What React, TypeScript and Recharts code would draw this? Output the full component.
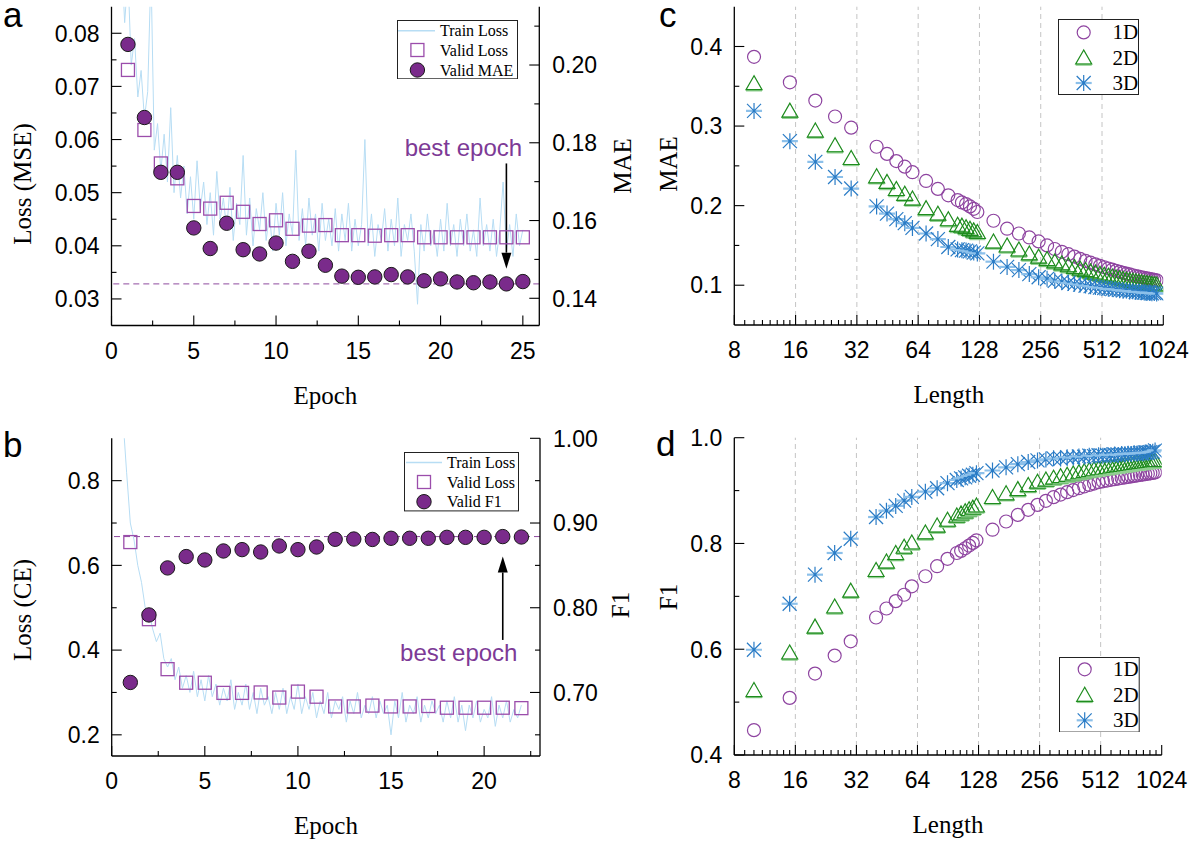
import React from 'react';
import { ComposedChart, Line, Scatter, XAxis, YAxis, ReferenceLine, Legend } from 'recharts';

const SANS = 'Arial, "Liberation Sans", Helvetica, sans-serif';
const SERIF = '"Times New Roman", "Liberation Serif", Times, serif';

const TRAIN = '#b7ddf4';
const SQUARE = '#9b4dab';
const DOT_FILL = '#7a2b8b';
const DASH = '#8e4a9e';
const BEST_TXT = '#7d3a96';
const C1D = '#8e44a0';
const C2D = '#1e8c1e';
const C2D_LIGHT = '#92d092';
const C3D = '#2a7cc6';
const C3D_LIGHT = '#8cc0ea';
const GRID = '#c4c4c4';

// ---------- panel a: regression run ----------
const epochsA = [1, 2, 3, 4, 5, 6, 7, 8, 9, 10, 11, 12, 13, 14, 15, 16, 17, 18, 19, 20, 21, 22, 23, 24, 25];
const validLossA = [0.0731, 0.0618, 0.0555, 0.0527, 0.0475, 0.047, 0.0481, 0.0464, 0.0441, 0.0448, 0.0432, 0.0438, 0.0439,
  0.042, 0.042, 0.0419, 0.042, 0.042, 0.0416, 0.0416, 0.0416, 0.0416, 0.0416, 0.0416, 0.0416];
const validMaeA = [0.2053, 0.1865, 0.1724, 0.1724, 0.1581, 0.1528, 0.1593, 0.1525, 0.1514, 0.1542, 0.1495, 0.1521, 0.1485,
  0.1457, 0.1454, 0.1455, 0.1461, 0.1455, 0.1445, 0.145, 0.1442, 0.144, 0.1442, 0.1437, 0.1443];
// logged every 0.2 epoch, first value at epoch 0.6
const trainLossA = [
  0.095, 0.082, 0.091, 0.074, 0.079, 0.068, 0.073, 0.064, 0.069, 0.092,
  0.058, 0.063, 0.054, 0.061, 0.052, 0.066, 0.05, 0.057, 0.049, 0.055,
  0.046, 0.053, 0.045, 0.056, 0.047, 0.052, 0.044, 0.05, 0.042, 0.054,
  0.045, 0.049, 0.043, 0.051, 0.041, 0.048, 0.044, 0.057, 0.042, 0.049,
  0.04, 0.047, 0.043, 0.05, 0.041, 0.046, 0.039, 0.048, 0.042, 0.05,
  0.04, 0.046, 0.042, 0.058, 0.041, 0.047, 0.04, 0.049, 0.042, 0.046,
  0.039, 0.048, 0.041, 0.045, 0.04, 0.047, 0.039, 0.046, 0.041, 0.048,
  0.039, 0.045, 0.04, 0.044, 0.06, 0.04, 0.046, 0.038, 0.044, 0.041,
  0.047, 0.039, 0.045, 0.04, 0.049, 0.038, 0.044, 0.041, 0.046, 0.039,
  0.029, 0.044, 0.039, 0.046, 0.04, 0.043, 0.038, 0.045, 0.039, 0.048,
  0.04, 0.044, 0.038, 0.045, 0.04, 0.046, 0.039, 0.043, 0.038, 0.049,
  0.04, 0.044, 0.039, 0.045, 0.038, 0.043, 0.052, 0.039, 0.044, 0.038,
  0.046, 0.04, 0.043,
];
const bestEpochA = 24;

// ---------- panel b: classification run ----------
const epochsB = [1, 2, 3, 4, 5, 6, 7, 8, 9, 10, 11, 12, 13, 14, 15, 16, 17, 18, 19, 20, 21, 22];
const validLossB = [0.655, 0.473, 0.355, 0.323, 0.323, 0.299, 0.299, 0.3, 0.288, 0.302, 0.29, 0.267, 0.267, 0.269, 0.267,
  0.267, 0.268, 0.264, 0.264, 0.264, 0.264, 0.263];
const validF1B = [0.7118, 0.7915, 0.847, 0.8604, 0.8564, 0.867, 0.8686, 0.8658, 0.8729, 0.8686, 0.8717, 0.8808, 0.8811,
  0.8806, 0.882, 0.882, 0.882, 0.8831, 0.8831, 0.8831, 0.884, 0.8835];
const trainLossB = [
  0.95, 0.82, 0.7, 0.66, 0.6, 0.56, 0.5, 0.49, 0.45, 0.42,
  0.44, 0.38, 0.36, 0.38, 0.33, 0.36, 0.31, 0.34, 0.3, 0.35,
  0.29, 0.33, 0.28, 0.34, 0.29, 0.32, 0.27, 0.31, 0.28, 0.33,
  0.26, 0.3, 0.27, 0.32, 0.26, 0.3, 0.25, 0.31, 0.27, 0.29,
  0.25, 0.3, 0.26, 0.31, 0.25, 0.29, 0.26, 0.32, 0.25, 0.29,
  0.26, 0.3, 0.24, 0.28, 0.25, 0.3, 0.24, 0.28, 0.26, 0.29,
  0.23, 0.28, 0.25, 0.3, 0.24, 0.27, 0.25, 0.29, 0.24, 0.28,
  0.25, 0.27, 0.2, 0.28, 0.24, 0.3, 0.23, 0.27, 0.25, 0.29,
  0.23, 0.27, 0.24, 0.28, 0.25, 0.27, 0.23, 0.28, 0.24, 0.29,
  0.23, 0.27, 0.21, 0.27, 0.24, 0.28, 0.23, 0.26, 0.24, 0.29,
  0.22, 0.27, 0.24, 0.28, 0.23, 0.26, 0.24, 0.27,
];
const bestEpochB = 21;
const TRAIN_START = 0.6;
const TRAIN_STEP = 0.2;

// ---------- panels c, d: metric vs sequence length ----------
const lengths = [10, 15, 20, 25, 30, 40, 45, 50, 55, 60, 70, 80, 90, 100, 105, 110, 115, 120, 125,
  150, 175, 200, 225, 250, 275, 300, 325, 350, 375, 400, 425, 450, 475, 500, 525, 550, 575, 600,
  625, 650, 675, 700, 725, 750, 775, 800, 825, 850, 875, 900, 925, 950];
const mae1D = [0.387, 0.355, 0.332, 0.312, 0.298, 0.274, 0.265, 0.256, 0.249, 0.242, 0.231, 0.221, 0.213, 0.207, 0.204,
  0.202, 0.199, 0.196, 0.192, 0.181, 0.171, 0.165, 0.16, 0.155, 0.15, 0.1455, 0.142, 0.139, 0.136, 0.133, 0.1305,
  0.1283, 0.1262, 0.1243, 0.1226, 0.121, 0.1195, 0.1181, 0.1168, 0.1156, 0.1145, 0.1135, 0.1125, 0.1116, 0.1108,
  0.11, 0.1093, 0.1086, 0.108, 0.1074, 0.1068, 0.1062];
const mae2D = [0.352, 0.3175, 0.2925, 0.274, 0.258, 0.235, 0.228, 0.219, 0.213, 0.207, 0.195, 0.188, 0.181, 0.174, 0.173,
  0.171, 0.169, 0.167, 0.165, 0.153, 0.148, 0.143, 0.138, 0.134, 0.131, 0.128, 0.1255, 0.1232, 0.121, 0.119, 0.1172,
  0.1155, 0.114, 0.1126, 0.1113, 0.1101, 0.109, 0.108, 0.107, 0.1061, 0.1053, 0.1045, 0.1038, 0.1031, 0.1025, 0.1019,
  0.1013, 0.1008, 0.1003, 0.0998, 0.0994, 0.099];
const mae3D = [0.319, 0.281, 0.255, 0.236, 0.2215, 0.199, 0.19, 0.183, 0.178, 0.172, 0.165, 0.158, 0.148, 0.145, 0.144,
  0.1435, 0.1425, 0.141, 0.14, 0.1296, 0.123, 0.119, 0.114, 0.11, 0.108, 0.1055, 0.1045, 0.1028, 0.1017, 0.1008, 0.0995,
  0.0988, 0.0976, 0.097, 0.0965, 0.0955, 0.0951, 0.0948, 0.0938, 0.0935, 0.0932, 0.0922, 0.0925, 0.0915, 0.0918, 0.091,
  0.0908, 0.0903, 0.0906, 0.0898, 0.0901, 0.0895];
const f1_1D = [0.447, 0.508, 0.554, 0.588, 0.615, 0.66, 0.677, 0.691, 0.703, 0.719, 0.738, 0.757, 0.771, 0.782, 0.786,
  0.791, 0.796, 0.801, 0.806, 0.826, 0.8415, 0.854, 0.8636, 0.873, 0.8806, 0.8875, 0.8925, 0.897, 0.901, 0.9045, 0.9078,
  0.9107, 0.9133, 0.916, 0.9175, 0.919, 0.9203, 0.9215, 0.9227, 0.9238, 0.9248, 0.9258, 0.9268, 0.9277, 0.9286, 0.9295,
  0.9303, 0.9311, 0.9319, 0.9327, 0.9335, 0.9343];
const f1_2D = [0.52, 0.591, 0.64, 0.678, 0.708, 0.747, 0.763, 0.779, 0.791, 0.799, 0.818, 0.831, 0.842, 0.85, 0.854,
  0.858, 0.862, 0.865, 0.869, 0.885, 0.892, 0.9, 0.9076, 0.914, 0.918, 0.9215, 0.9245, 0.927, 0.9295, 0.9318, 0.934,
  0.936, 0.9375, 0.939, 0.9403, 0.9415, 0.9427, 0.9438, 0.9448, 0.9458, 0.9467, 0.9476, 0.9485, 0.9493, 0.95, 0.9508,
  0.9515, 0.9522, 0.9528, 0.9535, 0.9541, 0.9547];
const f1_3D = [0.599, 0.686, 0.741, 0.782, 0.809, 0.85, 0.862, 0.871, 0.881, 0.888, 0.898, 0.9045, 0.914, 0.92, 0.923,
  0.925, 0.928, 0.93, 0.933, 0.938, 0.944, 0.95, 0.954, 0.957, 0.959, 0.961, 0.9605, 0.963, 0.9625, 0.9645, 0.964,
  0.966, 0.9652, 0.9668, 0.966, 0.9675, 0.9668, 0.9682, 0.9675, 0.969, 0.9685, 0.9698, 0.9692, 0.9705, 0.97, 0.9712,
  0.9708, 0.972, 0.9715, 0.9728, 0.9735, 0.976];

// ---------- ticks ----------
const epochTicksA = [0, 2.5, 5, 7.5, 10, 12.5, 15, 17.5, 20, 22.5, 25];
const epochLabelsA = [0, 5, 10, 15, 20, 25];
const lossTicksA = [0.03, 0.035, 0.04, 0.045, 0.05, 0.055, 0.06, 0.065, 0.07, 0.075, 0.08];
const lossLabelsA = [0.03, 0.04, 0.05, 0.06, 0.07, 0.08];
const maeTicksA = [0.14, 0.15, 0.16, 0.17, 0.18, 0.19, 0.2, 0.21];
const maeLabelsA = [0.14, 0.16, 0.18, 0.2];

const epochTicksB = [0, 2.5, 5, 7.5, 10, 12.5, 15, 17.5, 20, 22.5];
const epochLabelsB = [0, 5, 10, 15, 20];
const lossTicksB = [0.2, 0.3, 0.4, 0.5, 0.6, 0.7, 0.8];
const lossLabelsB = [0.2, 0.4, 0.6, 0.8];
const f1TicksB = [0.65, 0.7, 0.75, 0.8, 0.85, 0.9, 0.95, 1.0];
const f1LabelsB = [0.7, 0.8, 0.9, 1.0];

const lengthLabels = [8, 16, 32, 64, 128, 256, 512, 1024];
const lengthMinor = lengthLabels.slice(0, -1).flatMap((m) => [1, 2, 3, 4, 5, 6, 7].map((j) => m + (j * m) / 8));
const lengthTicks = [...lengthLabels, ...lengthMinor].sort((a, b) => a - b);
const maeTicksC = [0.1, 0.15, 0.2, 0.25, 0.3, 0.35, 0.4];
const maeLabelsC = [0.1, 0.2, 0.3, 0.4];
const f1TicksD = [0.4, 0.5, 0.6, 0.7, 0.8, 0.9, 1.0];
const f1LabelsD = [0.4, 0.6, 0.8, 1.0];

const toPts = (xs: number[], ys: number[]) => xs.map((x, i) => ({ x, y: ys[i] }));
const trainPts = (vals: number[]) => vals.map((y, i) => ({ x: +(TRAIN_START + i * TRAIN_STEP).toFixed(2), y }));

// ---------- helpers ----------
type Side = 'bottom' | 'top' | 'left' | 'right';
const has = (arr: number[], v: number) => arr.some((a) => Math.abs(a - v) < 1e-9);

function makeTick(side: Side, majors: number[], labels: number[], digits: number, fontSize = 23) {
  return (props: any) => {
    const { x, y, payload } = props;
    const v = payload.value as number;
    const len = has(majors, v) ? 10 : 5;
    const show = has(labels, v);
    const txt = digits < 0 ? String(v) : v.toFixed(digits);
    const tp = { fontFamily: SANS, fontSize, fill: '#000' };
    let line: React.ReactNode = null;
    let text: React.ReactNode = null;
    if (side === 'bottom') {
      line = <line x1={x} y1={y} x2={x} y2={y - len} stroke="#000" strokeWidth={1.1} />;
      if (show) text = <text x={x} y={y + 33} textAnchor="middle" {...tp}>{txt}</text>;
    } else if (side === 'top') {
      line = <line x1={x} y1={y} x2={x} y2={y + len} stroke="#000" strokeWidth={1.1} />;
    } else if (side === 'left') {
      line = <line x1={x} y1={y} x2={x + len} y2={y} stroke="#000" strokeWidth={1.1} />;
      if (show) text = <text x={x - 12} y={y} dy="0.36em" textAnchor="end" {...tp}>{txt}</text>;
    } else {
      line = <line x1={x} y1={y} x2={x - len} y2={y} stroke="#000" strokeWidth={1.1} />;
      if (show) text = <text x={x + 13} y={y} dy="0.36em" textAnchor="start" {...tp}>{txt}</text>;
    }
    return <g>{line}{text}</g>;
  };
}

const vTitle = (text: string, cx: number, cy: number) => ({
  value: text,
  content: () => (
    <text x={cx} y={cy} transform={`rotate(-90 ${cx} ${cy})`} textAnchor="middle" dominantBaseline="central"
      fontFamily={SERIF} fontSize={25} fill="#000">{text}</text>
  ),
});
const hTitle = (text: string, cx: number, by: number) => ({
  value: text,
  content: () => (
    <text x={cx} y={by} textAnchor="middle" fontFamily={SERIF} fontSize={25} fill="#000">{text}</text>
  ),
});

const AXIS_LINE = { stroke: '#000', strokeWidth: 1.3 };

// ---------- marker shapes ----------
const SquareMark = (p: any) => (
  <rect x={p.cx - 6.5} y={p.cy - 6.5} width={13} height={13} fill="none" stroke={SQUARE} strokeWidth={1.3} />
);
const DotMark = (p: any) => <circle cx={p.cx} cy={p.cy} r={7.2} fill={DOT_FILL} stroke="#1a1a1a" strokeWidth={1} />;
const RingMark = (p: any) => <circle cx={p.cx} cy={p.cy} r={6.5} fill="none" stroke={C1D} strokeWidth={1.2} />;
const TriMark = (p: any) => {
  const { cx, cy } = p;
  return (
    <g>
      <line x1={cx - 8} y1={cy + 5.6} x2={cx + 8} y2={cy + 5.6} stroke={C2D_LIGHT} strokeWidth={2.4} />
      <polygon points={`${cx},${cy - 9} ${cx - 8},${cy + 5} ${cx + 8},${cy + 5}`} fill="none" stroke={C2D} strokeWidth={1.2} />
    </g>
  );
};
const StarMark = (p: any) => {
  const { cx, cy } = p;
  return (
    <g>
      <line x1={cx - 8} y1={cy} x2={cx + 8} y2={cy} stroke={C3D_LIGHT} strokeWidth={2.2} />
      <line x1={cx} y1={cy - 8} x2={cx} y2={cy + 8} stroke={C3D} strokeWidth={1.2} />
      <line x1={cx - 7} y1={cy - 7} x2={cx + 7} y2={cy + 7} stroke={C3D} strokeWidth={1.2} />
      <line x1={cx - 7} y1={cy + 7} x2={cx + 7} y2={cy - 7} stroke={C3D} strokeWidth={1.2} />
      <circle cx={cx} cy={cy} r={1.4} fill={C3D} />
    </g>
  );
};

const arrowShape = (textDx: number, textDy: number) => (p: any) => {
  const { x1, y1, x2, y2 } = p;
  const dir = y2 > y1 ? 1 : -1;
  const head = 16;
  return (
    <g>
      <line x1={x1} y1={y1} x2={x2} y2={y2 - dir * head} stroke="#000" strokeWidth={1.6} />
      <polygon points={`${x2},${y2} ${x2 - 5},${y2 - dir * head} ${x2 + 5},${y2 - dir * head}`} fill="#000" />
      <text x={x1 + textDx} y={y1 + textDy} textAnchor="middle" fontFamily={SANS} fontSize={24} fill={BEST_TXT}>
        best epoch
      </text>
    </g>
  );
};

// ---------- legends ----------
function TrainLegend({ w, h, rows, symX, lineX, textX, metric }: any) {
  return (
    <svg width={w} height={h} style={{ display: 'block' }}>
      <rect x={0.5} y={0.5} width={w - 1} height={h - 1} fill="#fff" stroke="#222" strokeWidth={1} />
      <line x1={lineX[0]} y1={rows[0]} x2={lineX[1]} y2={rows[0]} stroke={TRAIN} strokeWidth={1.5} />
      <SquareMark cx={symX} cy={rows[1]} />
      <DotMark cx={symX} cy={rows[2]} />
      {['Train Loss', 'Valid Loss', metric].map((t, i) => (
        <text key={t} x={textX} y={rows[i]} dominantBaseline="central" fontFamily={SERIF} fontSize={16} fill="#000">{t}</text>
      ))}
    </svg>
  );
}

function DimLegend({ w, h, rows, symX, textX }: any) {
  return (
    <svg width={w} height={h} style={{ display: 'block' }}>
      <rect x={0.5} y={0.5} width={w - 1} height={h - 1} fill="#fff" stroke="#222" strokeWidth={1} />
      <RingMark cx={symX} cy={rows[0]} />
      <TriMark cx={symX} cy={rows[1] + 1} />
      <StarMark cx={symX} cy={rows[2]} />
      {['1D', '2D', '3D'].map((t, i) => (
        <text key={t} x={textX} y={rows[i]} dominantBaseline="central" fontFamily={SERIF} fontSize={21} fill="#000">{t}</text>
      ))}
    </svg>
  );
}

// ---------- training panels (a, b) ----------
function TrainingPanel(p: any) {
  return (
    <div style={{ position: 'absolute', left: p.left, top: p.top }}>
      <ComposedChart width={p.width} height={p.height} margin={p.margin}>
        <XAxis type="number" dataKey="x" domain={p.xDomain} ticks={p.xTicks} interval={0} allowDataOverflow
          height={p.xAxisH} tickSize={0} tickMargin={0} tickLine={false} axisLine={AXIS_LINE}
          tick={makeTick('bottom', p.xLabels, p.xLabels, -1)} label={hTitle('Epoch', p.titles.bx, p.titles.by)} />
        <XAxis xAxisId="top" orientation="top" type="number" dataKey="x" domain={p.xDomain} ticks={p.xTicks}
          interval={0} allowDataOverflow height={0} tickSize={0} tickMargin={0} tickLine={false} axisLine={AXIS_LINE}
          tick={makeTick('top', p.xLabels, [], -1)} />
        <YAxis yAxisId="left" type="number" dataKey="y" domain={p.lDomain} ticks={p.lTicks} interval={0}
          allowDataOverflow width={p.leftW} tickSize={0} tickMargin={0} tickLine={false} axisLine={AXIS_LINE}
          tick={makeTick('left', p.lLabels, p.lLabels, p.lDigits)} label={vTitle(p.titles.left, p.titles.lx, p.titles.ly)} />
        <YAxis yAxisId="right" orientation="right" type="number" dataKey="y" domain={p.rDomain} ticks={p.rTicks}
          interval={0} allowDataOverflow width={p.rightW} tickSize={0} tickMargin={0} tickLine={false}
          axisLine={AXIS_LINE} tick={makeTick('right', p.rLabels, p.rLabels, 2)}
          label={vTitle(p.titles.right, p.titles.rx, p.titles.ry)} />
        <ReferenceLine yAxisId="right" y={p.bestMetric} stroke={DASH} strokeWidth={1} strokeDasharray="6 4" />
        <Line yAxisId="left" data={p.train} dataKey="y" stroke={TRAIN} strokeWidth={1} dot={false}
          isAnimationActive={false} legendType="none" />
        <Scatter yAxisId="left" data={p.loss} shape={SquareMark} isAnimationActive={false} legendType="none" />
        <Scatter yAxisId="right" data={p.metric} shape={DotMark} isAnimationActive={false} legendType="none" />
        <ReferenceLine yAxisId="left" segment={p.arrow} shape={arrowShape(p.textDx, p.textDy)} />
        <Legend layout="vertical" align="center" verticalAlign="middle"
          wrapperStyle={{ left: p.legend.x, top: p.legend.y, width: p.legend.w, height: p.legend.h }}
          content={() => <TrainLegend {...p.legend} />} />
      </ComposedChart>
    </div>
  );
}

// ---------- length panels (c, d) ----------
function LengthPanel(p: any) {
  return (
    <div style={{ position: 'absolute', left: p.left, top: p.top }}>
      <ComposedChart width={p.width} height={p.height} margin={p.margin}>
        <XAxis type="number" dataKey="x" scale="log" domain={[8, 1024]} ticks={lengthTicks} interval={0}
          allowDataOverflow height={p.xAxisH} tickSize={0} tickMargin={0} tickLine={false} axisLine={AXIS_LINE}
          tick={makeTick('bottom', lengthLabels, lengthLabels, -1)} label={hTitle('Length', p.titles.bx, p.titles.by)} />
        <XAxis xAxisId="top" orientation="top" type="number" dataKey="x" scale="log" domain={[8, 1024]}
          ticks={lengthTicks} interval={0} allowDataOverflow height={0} tickSize={0} tickMargin={0} tickLine={false}
          axisLine={AXIS_LINE} tick={makeTick('top', lengthLabels, [], -1)} />
        <YAxis type="number" dataKey="y" domain={p.yDomain} ticks={p.yTicks} interval={0} allowDataOverflow
          width={p.leftW} tickSize={0} tickMargin={0} tickLine={false} axisLine={AXIS_LINE}
          tick={makeTick('left', p.yLabels, p.yLabels, 1)} label={vTitle(p.titles.left, p.titles.lx, p.titles.ly)} />
        <YAxis yAxisId="mirror" orientation="right" type="number" dataKey="y" domain={p.yDomain} ticks={p.yTicks}
          interval={0} allowDataOverflow width={0} tickSize={0} tickMargin={0} tickLine={false} axisLine={AXIS_LINE}
          tick={makeTick('right', p.yLabels, [], 1)} />
        {lengthLabels.slice(1, -1).map((v) => (
          <ReferenceLine key={v} x={v} stroke={GRID} strokeWidth={1} strokeDasharray="5 4" />
        ))}
        <Scatter data={p.s1} shape={RingMark} isAnimationActive={false} legendType="none" />
        <Scatter data={p.s2} shape={TriMark} isAnimationActive={false} legendType="none" />
        <Scatter data={p.s3} shape={StarMark} isAnimationActive={false} legendType="none" />
        <Legend layout="vertical" align="center" verticalAlign="middle"
          wrapperStyle={{ left: p.legend.x, top: p.legend.y, width: p.legend.w, height: p.legend.h }}
          content={() => <DimLegend {...p.legend} />} />
      </ComposedChart>
    </div>
  );
}

const panelLetters: [string, number, number][] = [['a', 3, 27], ['b', 3, 457], ['c', 659, 27], ['d', 656, 456]];

export default function App() {
  return (
    <div style={{ position: 'absolute', left: 0, top: 0, width: 1196, height: 842, background: '#fff', overflow: 'hidden' }}>
      <TrainingPanel
        left={0} top={0} width={680} height={420}
        margin={{ top: 6.7, right: 40.7, bottom: 0, left: 0 }}
        leftW={111.5} rightW={100} xAxisH={94.5}
        xDomain={[0, 26]} xTicks={epochTicksA} xLabels={epochLabelsA}
        lDomain={[0.025, 0.085]} lTicks={lossTicksA} lLabels={lossLabelsA} lDigits={2}
        rDomain={[0.133, 0.215]} rTicks={maeTicksA} rLabels={maeLabelsA}
        train={trainPts(trainLossA)} loss={toPts(epochsA, validLossA)} metric={toPts(epochsA, validMaeA)}
        bestMetric={validMaeA[bestEpochA - 1]}
        arrow={[{ x: bestEpochA, y: 0.0555 }, { x: bestEpochA, y: 0.0357 }]} textDx={-43} textDy={-7}
        titles={{ left: 'Loss (MSE)', lx: 22, ly: 184, right: 'MAE', rx: 622, ry: 166, bx: 325.4, by: 404 }}
        legend={{ x: 397.3, y: 20, w: 121, h: 59.3, rows: [10.7, 30, 50], symX: 20.4, lineX: [1, 38], textX: 43, metric: 'Valid MAE' }}
      />
      <TrainingPanel
        left={0} top={420} width={680} height={422}
        margin={{ top: 18.3, right: 40, bottom: 0, left: 0 }}
        leftW={111.7} rightW={100} xAxisH={86}
        xDomain={[0, 23]} xTicks={epochTicksB} xLabels={epochLabelsB}
        lDomain={[0.15, 0.9]} lTicks={lossTicksB} lLabels={lossLabelsB} lDigits={1}
        rDomain={[0.625, 1.0]} rTicks={f1TicksB} rLabels={f1LabelsB}
        train={trainPts(trainLossB)} loss={toPts(epochsB, validLossB)} metric={toPts(epochsB, validF1B)}
        bestMetric={validF1B[bestEpochB - 1]}
        arrow={[{ x: bestEpochB, y: 0.424 }, { x: bestEpochB, y: 0.621 }]} textDx={-44} textDy={21}
        titles={{ left: 'Loss (CE)', lx: 22, ly: 190, right: 'F1', rx: 620, ry: 185, bx: 326, by: 414 }}
        legend={{ x: 404.3, y: 32.3, w: 115, h: 59.4, rows: [10.4, 30, 49.7], symX: 20, lineX: [2, 38], textX: 43, metric: 'Valid F1' }}
      />
      <LengthPanel
        left={620} top={0} width={576} height={420}
        margin={{ top: 6.7, right: 32.7, bottom: 0, left: 0 }}
        leftW={114.3} xAxisH={95}
        yDomain={[0.05, 0.45]} yTicks={maeTicksC} yLabels={maeLabelsC}
        s1={toPts(lengths, mae1D)} s2={toPts(lengths, mae2D)} s3={toPts(lengths, mae3D)}
        titles={{ left: 'MAE', lx: 48, ly: 164, bx: 328.8, by: 403 }}
        legend={{ x: 438.3, y: 19.3, w: 81, h: 76, rows: [13.4, 39, 64], symX: 25.7, textX: 54.4 }}
      />
      <LengthPanel
        left={620} top={420} width={576} height={422}
        margin={{ top: 17.7, right: 34.3, bottom: 0, left: 0 }}
        leftW={114.3} xAxisH={87}
        yDomain={[0.4, 1.0]} yTicks={f1TicksD} yLabels={f1LabelsD}
        s1={toPts(lengths, f1_1D)} s2={toPts(lengths, f1_2D)} s3={toPts(lengths, f1_3D)}
        titles={{ left: 'F1', lx: 48, ly: 177, bx: 328, by: 413 }}
        legend={{ x: 439.3, y: 236.7, w: 80.7, h: 75.6, rows: [12.3, 38.3, 63.3], symX: 25.7, textX: 54 }}
      />
      <svg width={1196} height={842} style={{ position: 'absolute', left: 0, top: 0, pointerEvents: 'none' }}>
        {panelLetters.map(([t, x, y]) => (
          <text key={t} x={x} y={y} fontFamily={SANS} fontSize={35} fill="#000">{t}</text>
        ))}
      </svg>
    </div>
  );
}
